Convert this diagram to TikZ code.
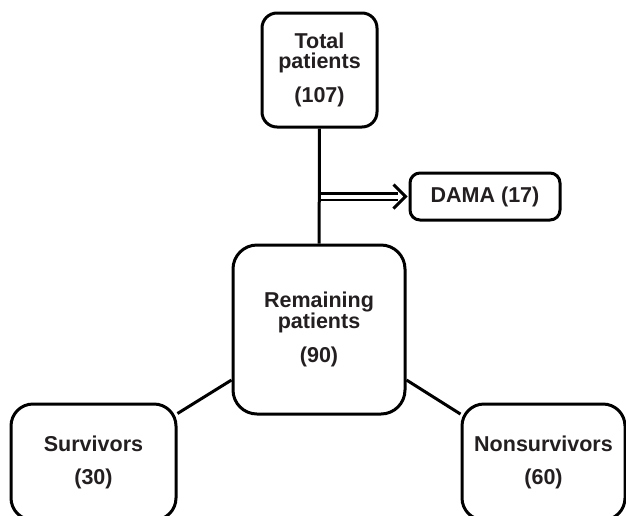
\documentclass[tikz,border=0pt]{standalone}
\usepackage{fontspec}
\setmainfont{Liberation Sans}
\usetikzlibrary{calc}
\definecolor{txt}{RGB}{35,31,32}
\begin{document}
\begin{tikzpicture}[x=1pt,y=-1pt,
  box/.style={draw=black, line width=3pt, align=center, inner sep=0pt, fill=white,
    font=\fontsize{21.5}{20}\selectfont\bfseries, text=txt},
  conn/.style={line width=3pt}]
\useasboundingbox (0,0) rectangle (626,515);
\clip (0,0) rectangle (626,515);
\node[box, minimum width=115pt, minimum height=114pt, rounded corners=15pt] (top) at (319.5,70) {Total\\patients\\[13pt](107)};
\node[box, minimum width=172pt, minimum height=169pt, rounded corners=24pt] (rem) at (319,329.5) {Remaining\\patients\\[13pt](90)};
\node[box, minimum width=150pt, minimum height=47pt, rounded corners=10pt] (dama) at (485,196.5) {DAMA (17)};
\node[box, minimum width=165pt, minimum height=116pt, rounded corners=22pt] (surv) at (93.5,462) {Survivors\\[13pt](30)};
\node[box, minimum width=163pt, minimum height=116pt, rounded corners=22pt] (nons) at (543.5,462) {Nonsurvivors\\[13pt](60)};
\coordinate (j) at (top.south |- dama.west);
\coordinate (tip) at ($(dama.west)+(-3,0)$);
\draw[line width=2.5pt, double, double distance=4pt] (j) -- ($(tip)+(-8,0)$);
\draw[line width=3pt, miter limit=10] ($(tip)+(-12,-12)$) -- (tip) -- ($(tip)+(-12,12)$);
\draw[conn] (top) -- (rem);
\draw[conn] (rem.210) -- (surv.30);
\draw[conn] (rem.-30) -- (nons.150);
\end{tikzpicture}
\end{document}
